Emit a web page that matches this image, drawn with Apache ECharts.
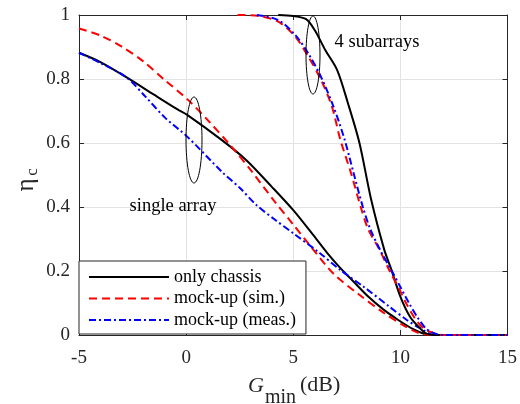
<!DOCTYPE html>
<html>
<head>
<meta charset="utf-8">
<script src="https://cdn.jsdelivr.net/npm/echarts@6/dist/echarts.min.js"></script>
<style>
    html, body { margin: 0; padding: 0; background: #fff; }
    #graph1 { width: 520px; height: 404px; }
</style>
</head>
<body>
<div id="graph1"></div>
<script>
// x = G_min (dB), y = eta_c
const singleChassis = [[-5, 0.882], [-4, 0.853], [-2.7, 0.802], [-1.5, 0.751], [-0.4, 0.705], [0.05, 0.688], [1.67, 0.609],
    [2.8, 0.547], [4, 0.463], [5, 0.39], [5.9, 0.315], [6.6, 0.255], [7.2, 0.209], [7.8, 0.168], [8.5, 0.12], [9.2, 0.08],
    [9.9, 0.047], [10.6, 0.018], [11.1, 0.004], [11.5, 0], [15, 0]];
const singleSim = [[-5, 0.958], [-4, 0.936], [-3, 0.901], [-2, 0.855], [-1, 0.797], [0.1, 0.734], [1.1, 0.665],
    [2.1, 0.59], [3.1, 0.508], [4.1, 0.42], [5, 0.345], [5.8, 0.278], [6.9, 0.19], [8, 0.13], [9.25, 0.068],
    [10.2, 0.028], [10.8, 0.008], [11.5, 0], [15, 0]];
const singleMeas = [[-5, 0.882], [-4, 0.85], [-2.8, 0.806], [-1.9, 0.745], [-1, 0.68], [0.05, 0.62], [1.67, 0.51],
    [2.5, 0.46], [3.3, 0.405], [4.15, 0.36], [5, 0.318], [6.2, 0.258], [7.2, 0.203], [8.3, 0.15], [9.5, 0.088],
    [10.3, 0.047], [10.9, 0.022], [11.6, 0], [15, 0]];
const subChassis = [[4.3, 1], [5, 0.997], [5.6, 0.987], [6, 0.953], [6.5, 0.89], [7.05, 0.828], [7.55, 0.725], [8.09, 0.6],
    [8.63, 0.425], [9.25, 0.266], [9.55, 0.21], [10, 0.12], [10.45, 0.057], [10.9, 0.022], [11.2, 0.005],
    [11.6, 0], [15, 0]];
const subSim = [[2.4, 1], [3.4, 0.997], [4.3, 0.979], [5.1, 0.932], [5.7, 0.87], [6.3, 0.797], [6.8, 0.715], [7.2, 0.61],
    [7.7, 0.505], [8.15, 0.4], [8.5, 0.33], [9, 0.27], [9.5, 0.2], [9.9, 0.15], [10.3, 0.095], [10.7, 0.05],
    [11.1, 0.02], [11.6, 0.005], [12, 0], [15, 0]];
const subMeas = [[3.3, 1], [4.3, 0.984], [5.1, 0.937], [5.7, 0.88], [6.3, 0.806], [6.9, 0.71], [7.4, 0.61], [7.8, 0.51],
    [8.25, 0.4], [8.6, 0.33], [9.1, 0.26], [9.6, 0.2], [10, 0.15], [10.4, 0.1], [10.8, 0.055], [11.2, 0.02],
    [11.6, 0.005], [12, 0], [15, 0]];
const legendNames = ['only chassis', 'mock-up (sim.)', 'mock-up (meas.)'];

const serif = 'Liberation Serif';
const axisColor = '#262626';
const gridColor = '#e3e3e3';

function makeLine(name, data, color, type) {
    return {
        name: name,
        type: 'line',
        data: data,
        symbol: 'none',
        showSymbol: false,
        smooth: 0.3,
        lineStyle: { color: color, width: 2, type: type },
        itemStyle: { color: color },
        z: 3,
    };
}

const myChart1 = echarts.init(document.getElementById('graph1'), null, { renderer: 'canvas' });
const option1 = {
    animation: false,
    backgroundColor: '#fff',
    grid: { left: 79, right: 9, top: 15, bottom: 69 },
    legend: {
        data: legendNames,
        orient: 'vertical',
        left: 79,
        top: 261,
        itemWidth: 80,
        itemHeight: 14,
        itemGap: 3.5,
        padding: [7, 10, 5, 9],
        backgroundColor: '#fff',
        borderColor: axisColor,
        borderWidth: 1,
        itemStyle: { opacity: 0 },
        textStyle: { fontFamily: serif, fontSize: 18, color: '#000' },
        z: 10,
    },
    xAxis: [
        {
            type: 'value',
            min: -5,
            max: 15,
            interval: 5,
            axisLine: { show: true, onZero: false, lineStyle: { color: axisColor } },
            axisTick: { inside: true, length: 5, lineStyle: { color: axisColor } },
            axisLabel: { fontFamily: serif, fontSize: 19, color: '#262626', margin: 14 },
            splitLine: { show: true, lineStyle: { color: gridColor } },
        },
        {
            type: 'value',
            position: 'top',
            min: -5,
            max: 15,
            interval: 5,
            axisLine: { show: true, onZero: false, lineStyle: { color: axisColor } },
            axisTick: { inside: true, length: 5, lineStyle: { color: axisColor } },
            axisLabel: { show: false },
            splitLine: { show: false },
        },
    ],
    yAxis: [
        {
            type: 'value',
            min: 0,
            max: 1,
            interval: 0.2,
            axisLine: { show: true, onZero: false, lineStyle: { color: axisColor } },
            axisTick: { inside: true, length: 5, lineStyle: { color: axisColor } },
            axisLabel: { fontFamily: serif, fontSize: 19, color: '#262626', margin: 9 },
            splitLine: { show: true, lineStyle: { color: gridColor } },
        },
        {
            type: 'value',
            position: 'right',
            min: 0,
            max: 1,
            interval: 0.2,
            axisLine: { show: true, onZero: false, lineStyle: { color: axisColor } },
            axisTick: { inside: true, length: 5, lineStyle: { color: axisColor } },
            axisLabel: { show: false },
            splitLine: { show: false },
        },
    ],
    series: [
        makeLine('only chassis', singleChassis, '#000', 'solid'),
        makeLine('mock-up (sim.)', singleSim, '#ff0000', [8, 5]),
        makeLine('mock-up (meas.)', singleMeas, '#0000ff', [7, 3, 2, 3]),
        makeLine('only chassis (4 sub)', subChassis, '#000', 'solid'),
        makeLine('mock-up (sim.) (4 sub)', subSim, '#ff0000', [8, 5]),
        makeLine('mock-up (meas.) (4 sub)', subMeas, '#0000ff', [7, 3, 2, 3]),
    ],
    graphic: [
        { type: 'ellipse', shape: { cx: 194, cy: 140, rx: 8, ry: 43 }, style: { fill: 'none', stroke: '#000', lineWidth: 1 }, z: 20 },
        { type: 'ellipse', shape: { cx: 313, cy: 55, rx: 7, ry: 39 }, style: { fill: 'none', stroke: '#000', lineWidth: 1 }, z: 20 },
        { type: 'text', x: 377, y: 42, style: { text: '4 subarrays', font: '18.5px "Liberation Serif"', fill: '#000', align: 'center', verticalAlign: 'middle' }, z: 20 },
        { type: 'text', x: 173, y: 206, style: { text: 'single array', font: '18.5px "Liberation Serif"', fill: '#000', align: 'center', verticalAlign: 'middle' }, z: 20 },
        { type: 'text', x: 248, y: 386, style: { text: 'G', font: 'italic 22px "Liberation Serif"', fill: '#262626', align: 'left', verticalAlign: 'middle' }, z: 20 },
        { type: 'text', x: 265, y: 398, style: { text: 'min', font: '20px "Liberation Serif"', fill: '#262626', align: 'left', verticalAlign: 'middle' }, z: 20 },
        { type: 'text', x: 300, y: 385, style: { text: '(dB)', font: '22px "Liberation Serif"', fill: '#262626', align: 'left', verticalAlign: 'middle' }, z: 20 },
        {
            type: 'group',
            x: 26,
            y: 185,
            rotation: Math.PI / 2,
            z: 20,
            children: [
                { type: 'text', x: 0, y: 0, style: { text: 'η', font: '25px "Liberation Serif"', fill: '#262626', align: 'center', verticalAlign: 'middle' } },
                { type: 'text', x: 13, y: 7, style: { text: 'c', font: '17px "Liberation Serif"', fill: '#262626', align: 'center', verticalAlign: 'middle' } },
            ],
        },
    ],
};
myChart1.setOption(option1);
window.addEventListener('resize', myChart1.resize);
</script>
</body>
</html>
